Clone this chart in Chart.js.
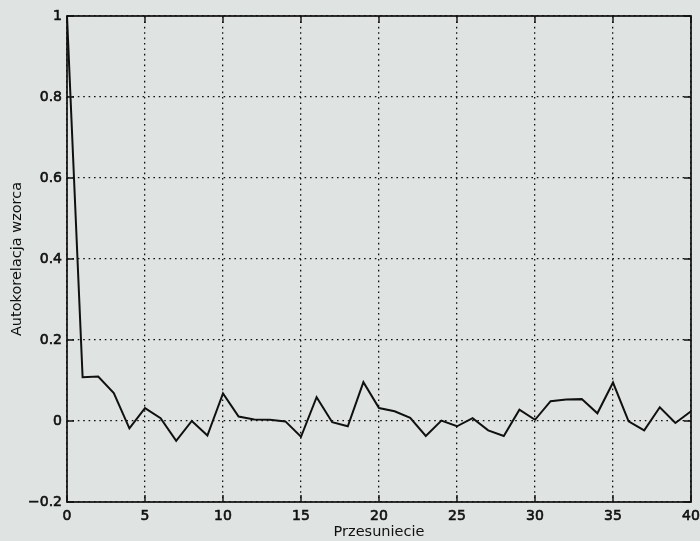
<!DOCTYPE html>
<html>
<head>
<meta charset="utf-8">
<script src="https://cdn.jsdelivr.net/npm/chart.js@4/dist/chart.umd.min.js"></script>
<style>
  html, body { margin: 0; padding: 0; background: #dfe4e3; }
  #wrap { width: 700px; height: 541px; }
</style>
</head>
<body>
<div id="wrap"><canvas id="acfChart"></canvas></div>
<script>
// lag (przesuniecie) and sample autocorrelation
const lags = [0, 1, 2, 3, 4, 5, 6, 7, 8, 9, 10, 11, 12, 13, 14, 15, 16, 17, 18, 19, 20,
              21, 22, 23, 24, 25, 26, 27, 28, 29, 30, 31, 32, 33, 34, 35, 36, 37, 38, 39, 40];
const acf = [1.0, 0.108, 0.110, 0.069, -0.018, 0.032, 0.007, -0.049, 0.000, -0.036, 0.068,
             0.011, 0.004, 0.003, -0.001, -0.039, 0.059, -0.003, -0.013, 0.096, 0.032,
             0.024, 0.008, -0.037, 0.001, -0.013, 0.007, -0.023, -0.037, 0.028, 0.003,
             0.049, 0.053, 0.054, 0.019, 0.095, -0.001, -0.023, 0.034, -0.005, 0.024];
const xTicks = [0, 5, 10, 15, 20, 25, 30, 35, 40];
const yTicks = [-0.2, 0, 0.2, 0.4, 0.6, 0.8, 1];

const ink = '#101010';
const fontFamily = '"DejaVu Sans", sans-serif';

// matlab style box with inward ticks on all four sides
const boxPlugin = {
  id: 'box',
  beforeDraw(chart) {
    const c = chart.ctx;
    c.save();
    c.fillStyle = '#dfe4e3';
    c.fillRect(0, 0, chart.width, chart.height);
    c.restore();
  },
  afterDatasetsDraw(chart) {
    const { ctx, chartArea: a, scales } = chart;
    const len = 7;
    ctx.save();
    ctx.strokeStyle = ink;
    ctx.lineWidth = 1.4;
    ctx.beginPath();
    scales.x.ticks.forEach(t => {
      const px = scales.x.getPixelForValue(t.value);
      ctx.moveTo(px, a.bottom); ctx.lineTo(px, a.bottom - len);
      ctx.moveTo(px, a.top); ctx.lineTo(px, a.top + len);
    });
    scales.y.ticks.forEach(t => {
      const py = scales.y.getPixelForValue(t.value);
      ctx.moveTo(a.left, py); ctx.lineTo(a.left + len, py);
      ctx.moveTo(a.right, py); ctx.lineTo(a.right - len, py);
    });
    ctx.stroke();
    ctx.lineWidth = 1.7;
    ctx.strokeRect(a.left, a.top, a.right - a.left, a.bottom - a.top);
    ctx.restore();
  }
};

function fmt(v) {
  const r = Math.round(v * 10) / 10;
  if (r === 0) return '0';
  return r < 0 ? '\u2212' + Math.abs(r) : String(r);
}

const tickFont = { family: fontFamily, size: 14 };

new Chart(document.getElementById('acfChart'), {
  type: 'line',
  data: {
    datasets: [{
      data: lags.map((x, i) => ({ x: x, y: acf[i] })),
      borderColor: ink,
      borderWidth: 2,
      pointRadius: 0,
      tension: 0,
      fill: false
    }]
  },
  options: {
    responsive: true,
    maintainAspectRatio: false,
    animation: false,
    layout: { padding: { top: 16, right: 9, left: 0, bottom: 0 } },
    plugins: { legend: { display: false }, tooltip: { enabled: false } },
    scales: {
      x: {
        type: 'linear',
        min: 0,
        max: 40,
        afterBuildTicks: s => { s.ticks = xTicks.map(v => ({ value: v })); },
        afterFit: s => { s.height = 39; s.paddingLeft = 0; s.paddingRight = 0; },
        grid: { color: ink, lineWidth: 1.3, drawTicks: false },
        border: { display: false, dash: [1.6, 3.8] },
        ticks: {
          color: ink, padding: 6, maxRotation: 0, font: tickFont,
          textStrokeColor: ink, textStrokeWidth: 0.6
        },
        title: {
          display: true,
          text: 'Przesuniecie',
          color: ink,
          padding: { top: 0, bottom: 0 },
          font: { family: fontFamily, size: 14.5 }
        }
      },
      y: {
        type: 'linear',
        min: -0.2,
        max: 1,
        afterBuildTicks: s => { s.ticks = yTicks.map(v => ({ value: v })); },
        afterFit: s => { s.width = 67; s.paddingTop = 0; s.paddingBottom = 0; },
        grid: { color: ink, lineWidth: 1.3, drawTicks: false },
        border: { display: false, dash: [1.6, 3.8] },
        ticks: {
          color: ink, padding: 5, callback: v => fmt(v), font: tickFont,
          textStrokeColor: ink, textStrokeWidth: 0.6
        },
        title: {
          display: true,
          text: 'Autokorelacja wzorca',
          color: ink,
          padding: { top: 9, bottom: 0 },
          font: { family: fontFamily, size: 14.5 }
        }
      }
    }
  },
  plugins: [boxPlugin]
});
</script>
</body>
</html>
